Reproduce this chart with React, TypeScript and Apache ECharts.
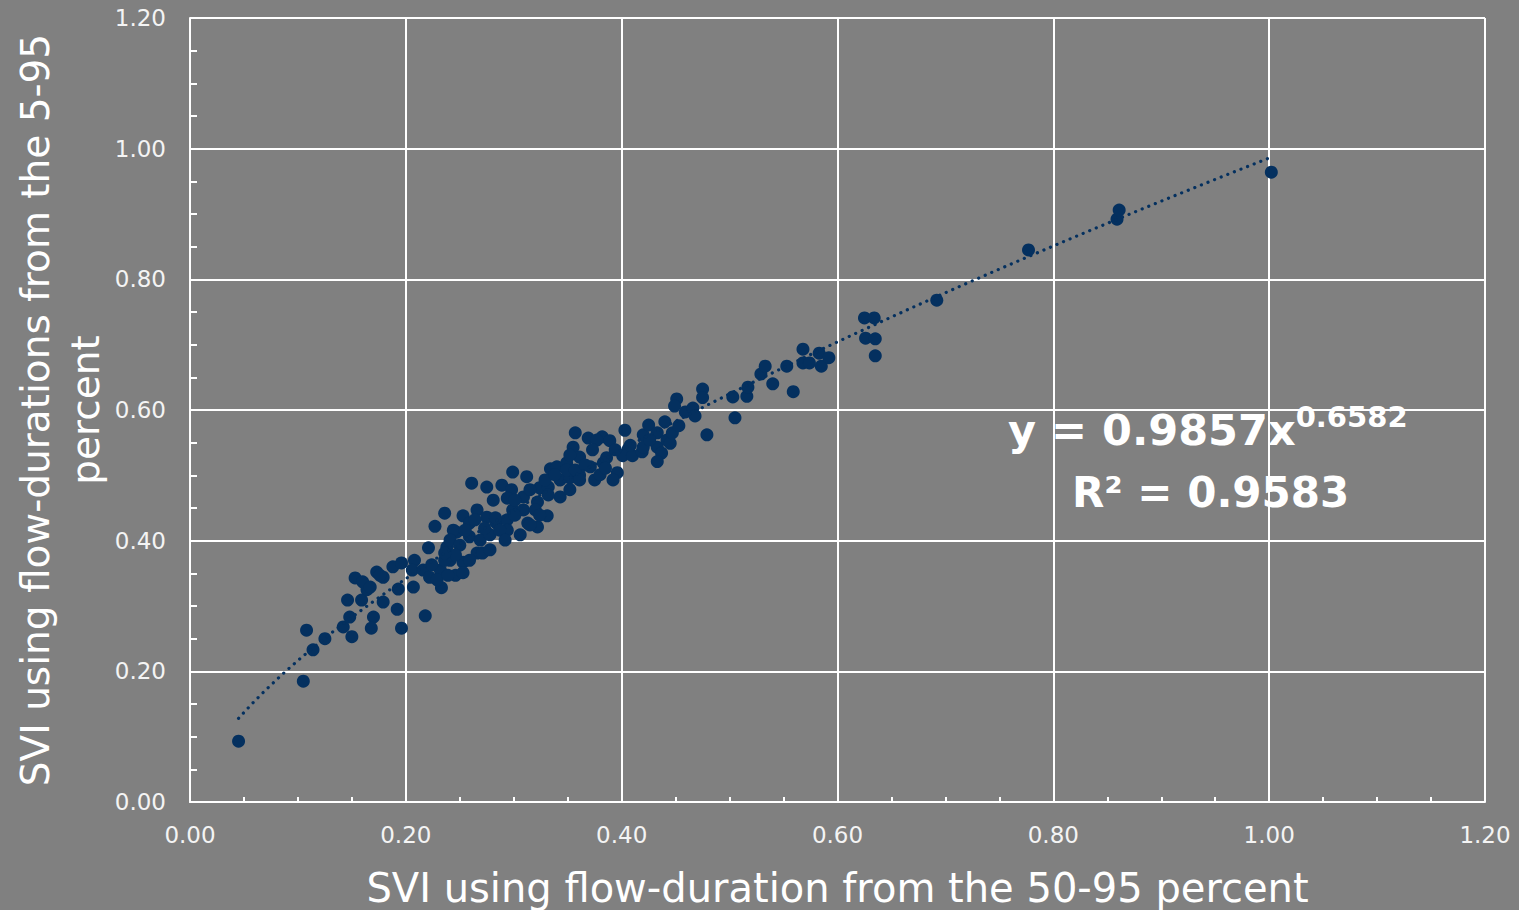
import React, { useEffect, useRef } from "react";
import * as echarts from "echarts";

// SVI using flow-duration from the 50-95 percent (x) and from the 5-95 percent (y)
const sviX = [
  0.045, 0.105, 0.108, 0.114, 0.125, 0.142, 0.150, 0.148, 0.170, 0.168,
  0.196, 0.192, 0.218, 0.179, 0.146, 0.159, 0.164, 0.153, 0.160, 0.167,
  0.173, 0.179, 0.176, 0.188, 0.196, 0.208, 0.206, 0.216, 0.207, 0.193,
  0.221, 0.227, 0.236, 0.253, 0.261, 0.238, 0.247, 0.259, 0.241, 0.253,
  0.266, 0.232, 0.222, 0.246, 0.253, 0.233, 0.271, 0.275, 0.289, 0.298,
  0.299, 0.312, 0.281, 0.294, 0.309, 0.322, 0.266, 0.275, 0.299, 0.309,
  0.320, 0.331, 0.313, 0.322, 0.244, 0.259, 0.284, 0.294, 0.275, 0.294,
  0.324, 0.332, 0.343, 0.352, 0.361, 0.375, 0.343, 0.334, 0.340, 0.349,
  0.352, 0.355, 0.357, 0.369, 0.382, 0.389, 0.377, 0.373, 0.386, 0.361,
  0.371, 0.383, 0.396, 0.392, 0.403, 0.406, 0.401, 0.410, 0.419, 0.420,
  0.420, 0.425, 0.433, 0.433, 0.437, 0.433, 0.440, 0.442, 0.445, 0.447,
  0.453, 0.451, 0.449, 0.459, 0.466, 0.468, 0.475, 0.475, 0.479, 0.503,
  0.505, 0.516, 0.517, 0.529, 0.533, 0.540, 0.553, 0.559, 0.568, 0.568,
  0.574, 0.583, 0.585, 0.592, 0.625, 0.634, 0.626, 0.635, 0.635, 0.692,
  0.777, 0.859, 0.861, 1.002,
  0.241, 0.250, 0.269, 0.278, 0.287, 0.273, 0.255, 0.264, 0.283, 0.246,
  0.236, 0.259, 0.278, 0.292, 0.306, 0.315, 0.301, 0.324, 0.229, 0.239,
  0.224, 0.236, 0.349, 0.357, 0.366, 0.332, 0.361, 0.380, 0.385, 0.352,
  0.301, 0.315, 0.329, 0.338, 0.408, 0.426, 0.394,
];
const sviY = [
  0.093, 0.185, 0.263, 0.233, 0.250, 0.268, 0.253, 0.283, 0.283, 0.266,
  0.266, 0.295, 0.285, 0.306, 0.309, 0.309, 0.325, 0.343, 0.337, 0.329,
  0.352, 0.344, 0.347, 0.360, 0.366, 0.370, 0.355, 0.355, 0.329, 0.326,
  0.389, 0.422, 0.442, 0.438, 0.488, 0.390, 0.413, 0.406, 0.370, 0.367,
  0.381, 0.355, 0.344, 0.347, 0.351, 0.328, 0.381, 0.482, 0.485, 0.478,
  0.505, 0.498, 0.462, 0.465, 0.467, 0.459, 0.447, 0.436, 0.447, 0.447,
  0.447, 0.438, 0.427, 0.421, 0.416, 0.427, 0.427, 0.432, 0.412, 0.416,
  0.481, 0.482, 0.493, 0.496, 0.500, 0.493, 0.467, 0.510, 0.513, 0.519,
  0.478, 0.543, 0.565, 0.557, 0.559, 0.553, 0.554, 0.539, 0.527, 0.528,
  0.513, 0.519, 0.504, 0.493, 0.569, 0.540, 0.530, 0.530, 0.536, 0.543,
  0.562, 0.577, 0.565, 0.543, 0.534, 0.521, 0.582, 0.554, 0.549, 0.565,
  0.576, 0.617, 0.606, 0.597, 0.603, 0.591, 0.632, 0.619, 0.562, 0.620,
  0.588, 0.621, 0.635, 0.655, 0.667, 0.640, 0.667, 0.628, 0.693, 0.672,
  0.672, 0.687, 0.667, 0.680, 0.741, 0.741, 0.710, 0.709, 0.683, 0.768,
  0.845, 0.892, 0.906, 0.964,
  0.401, 0.393, 0.401, 0.409, 0.416, 0.419, 0.416, 0.432, 0.435, 0.378,
  0.370, 0.370, 0.386, 0.401, 0.409, 0.424, 0.439, 0.439, 0.340, 0.347,
  0.363, 0.381, 0.508, 0.508, 0.516, 0.470, 0.493, 0.501, 0.511, 0.531,
  0.462, 0.478, 0.493, 0.501, 0.546, 0.554, 0.539,
];

// Power trendline shown on the chart: y = 0.9857 x^0.6582, R² = 0.9583
const TREND_A = 0.9857;
const TREND_B = 0.6582;
const TREND_X_FROM = 0.045;
const TREND_X_TO = 1.0;
const TREND_STEPS = 80;

const axisTicks = ["0.00", "0.20", "0.40", "0.60", "0.80", "1.00", "1.20"];
const xTitle = "SVI using flow-duration from the 50-95 percent";
const yTitle = "SVI using flow-durations from the 5-95\npercent";

const NAVY = "#04305F";
const FONT = "'DejaVu Sans', sans-serif";

export default function App() {
  const ref = useRef<HTMLDivElement>(null);

  useEffect(() => {
    document.body.style.margin = "0";
    document.body.style.background = "#808080";
    const chart = echarts.init(ref.current!, null, { renderer: "svg" });

    const points = sviX.map((x, i) => [x, sviY[i]]);
    const trend: number[][] = [];
    for (let i = 0; i <= TREND_STEPS; i++) {
      const x = TREND_X_FROM + ((TREND_X_TO - TREND_X_FROM) * i) / TREND_STEPS;
      trend.push([x, TREND_A * Math.pow(x, TREND_B)]);
    }

    const labelFmt = (v: number) => axisTicks[Math.round(v / 0.2)] ?? v.toFixed(2);

    const axisCommon = {
      type: "value" as const,
      min: 0,
      max: 1.2,
      interval: 0.2,
      nameLocation: "middle" as const,
      nameTextStyle: { color: "#ffffff", fontSize: 40, fontFamily: FONT, lineHeight: 52 },
      axisLine: { show: true, lineStyle: { color: "#ffffff", width: 2 } },
      axisTick: { show: false, inside: true },
      minorTick: { show: true, splitNumber: 4, length: 7, lineStyle: { color: "#ffffff", width: 2 } },
      splitLine: { show: true, lineStyle: { color: "#ffffff", width: 2 } },
      axisLabel: { color: "#f4f4f4", fontSize: 23, fontFamily: FONT, formatter: labelFmt },
    };

    chart.setOption({
      animation: false,
      backgroundColor: "#808080",
      grid: { left: 190, right: 34, top: 18, bottom: 108, containLabel: false, outerBoundsMode: "none" },
      xAxis: {
        ...axisCommon,
        name: xTitle,
        nameGap: 60,
        minorTick: { ...axisCommon.minorTick, length: 5 },
        axisLabel: { ...axisCommon.axisLabel, margin: 21 },
      },
      yAxis: {
        ...axisCommon,
        axisLabel: { ...axisCommon.axisLabel, margin: 24 },
      },
      series: [
        {
          type: "line",
          data: trend,
          symbol: "none",
          smooth: false,
          lineStyle: { color: NAVY, width: 3.2, type: [0.1, 7], cap: "round" },
          z: 3,
        },
        {
          type: "scatter",
          data: points,
          symbolSize: 13,
          itemStyle: { color: NAVY, opacity: 1 },
          z: 2,
        },
      ],
      graphic: [
        {
          type: "text",
          x: 60,
          y: 410,
          rotation: Math.PI / 2,
          style: {
            text: yTitle,
            fill: "#ffffff",
            fontSize: 39,
            lineHeight: 50,
            fontFamily: FONT,
            align: "center",
            verticalAlign: "middle",
          },
          z: 10,
        },
        {
          type: "text",
          left: 1008,
          top: 402,
          style: {
            text: "{a|y = 0.9857x}{b|0.6582}",
            fill: "#ffffff",
            rich: {
              a: { fontSize: 43, fontWeight: "bold", fontFamily: FONT, fill: "#ffffff", lineHeight: 56 },
              b: { fontSize: 29, fontWeight: "bold", fontFamily: FONT, fill: "#ffffff", verticalAlign: "top", lineHeight: 30 },
            },
          },
          z: 10,
        },
        {
          type: "text",
          left: 1072,
          top: 471,
          style: {
            text: "R² = 0.9583",
            fill: "#ffffff",
            fontSize: 42,
            fontWeight: "bold",
            fontFamily: FONT,
          },
          z: 10,
        },
      ],
    });

    return () => chart.dispose();
  }, []);

  return <div ref={ref} style={{ width: 1519, height: 910, background: "#808080" }} />;
}
